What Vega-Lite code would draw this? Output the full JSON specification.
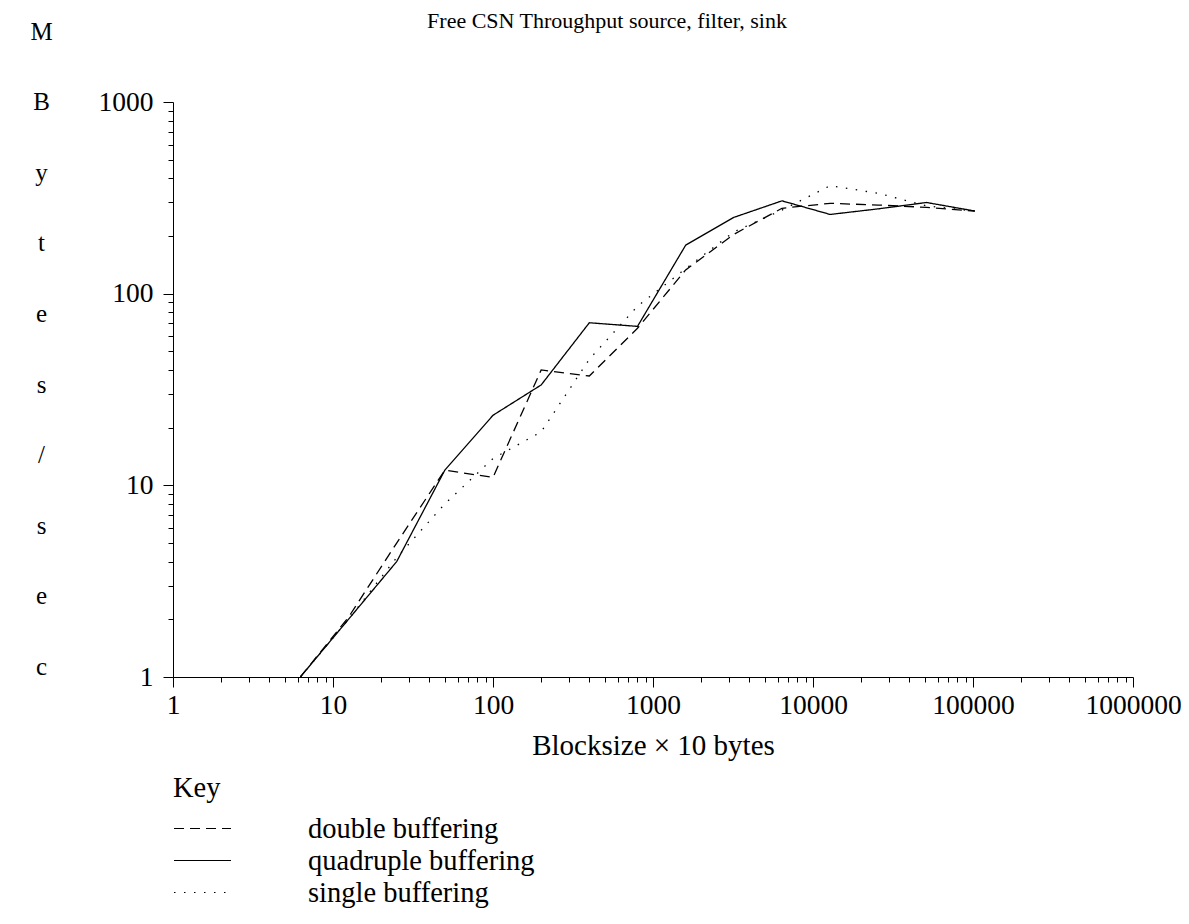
{
  "$schema": "https://vega.github.io/schema/vega-lite/v6.json",
  "autosize": "none",
  "padding": {"left": 173, "top": 102, "right": 56, "bottom": 247},
  "width": 960,
  "height": 575,
  "background": "white",
  "title": {
    "text": "Free CSN Throughput source, filter, sink",
    "font": "Liberation Serif",
    "fontSize": 22,
    "fontWeight": "normal",
    "color": "black",
    "anchor": "middle",
    "frame": "group",
    "dx": -46,
    "dy": 18
  },
  "config": {
    "view": {"stroke": null},
    "font": "Liberation Serif",
    "axis": {
      "domainColor": "black",
      "domainWidth": 1,
      "tickColor": "black",
      "tickWidth": 1,
      "labelColor": "black",
      "titleColor": "black",
      "labelFont": "Liberation Serif",
      "titleFont": "Liberation Serif",
      "labelFontSize": 27.5,
      "titleFontSize": 29,
      "titleFontWeight": "normal",
      "grid": false,
      "labelOverlap": false,
      "labelFlush": false,
      "labelBound": false
    },
    "legend": {
      "labelFont": "Liberation Serif",
      "titleFont": "Liberation Serif",
      "labelFontSize": 28.5,
      "titleFontSize": 28.5,
      "titleFontWeight": "normal",
      "labelColor": "black",
      "titleColor": "black"
    }
  },
  "data": {
    "values": [
      {"block": 6.25, "mbps": 1, "series": "double buffering"},
      {"block": 12.5, "mbps": 2.05, "series": "double buffering"},
      {"block": 25, "mbps": 5.0, "series": "double buffering"},
      {"block": 50, "mbps": 12.0, "series": "double buffering"},
      {"block": 100, "mbps": 11.0, "series": "double buffering"},
      {"block": 200, "mbps": 40, "series": "double buffering"},
      {"block": 400, "mbps": 37.2, "series": "double buffering"},
      {"block": 800, "mbps": 66, "series": "double buffering"},
      {"block": 1600, "mbps": 133, "series": "double buffering"},
      {"block": 3200, "mbps": 204, "series": "double buffering"},
      {"block": 6400, "mbps": 279, "series": "double buffering"},
      {"block": 12800, "mbps": 296, "series": "double buffering"},
      {"block": 25600, "mbps": 290, "series": "double buffering"},
      {"block": 51200, "mbps": 282, "series": "double buffering"},
      {"block": 102400, "mbps": 270, "series": "double buffering"},
      {"block": 6.25, "mbps": 1, "series": "quadruple buffering"},
      {"block": 12.5, "mbps": 2.0, "series": "quadruple buffering"},
      {"block": 25, "mbps": 4.0, "series": "quadruple buffering"},
      {"block": 50, "mbps": 12.0, "series": "quadruple buffering"},
      {"block": 100, "mbps": 23.2, "series": "quadruple buffering"},
      {"block": 200, "mbps": 33.4, "series": "quadruple buffering"},
      {"block": 400, "mbps": 70.5, "series": "quadruple buffering"},
      {"block": 800, "mbps": 67.5, "series": "quadruple buffering"},
      {"block": 1600, "mbps": 179, "series": "quadruple buffering"},
      {"block": 3200, "mbps": 250, "series": "quadruple buffering"},
      {"block": 6400, "mbps": 305, "series": "quadruple buffering"},
      {"block": 12800, "mbps": 259, "series": "quadruple buffering"},
      {"block": 25600, "mbps": 277, "series": "quadruple buffering"},
      {"block": 51200, "mbps": 299, "series": "quadruple buffering"},
      {"block": 102400, "mbps": 270, "series": "quadruple buffering"},
      {"block": 6.25, "mbps": 1, "series": "single buffering"},
      {"block": 12.5, "mbps": 2.0, "series": "single buffering"},
      {"block": 25, "mbps": 4.2, "series": "single buffering"},
      {"block": 50, "mbps": 8.0, "series": "single buffering"},
      {"block": 100, "mbps": 13.8, "series": "single buffering"},
      {"block": 200, "mbps": 19.0, "series": "single buffering"},
      {"block": 400, "mbps": 45.5, "series": "single buffering"},
      {"block": 800, "mbps": 86, "series": "single buffering"},
      {"block": 1600, "mbps": 135, "series": "single buffering"},
      {"block": 3200, "mbps": 210, "series": "single buffering"},
      {"block": 6400, "mbps": 273, "series": "single buffering"},
      {"block": 12800, "mbps": 366, "series": "single buffering"},
      {"block": 25600, "mbps": 334, "series": "single buffering"},
      {"block": 51200, "mbps": 287, "series": "single buffering"},
      {"block": 102400, "mbps": 270, "series": "single buffering"}
    ]
  },
  "mark": {"type": "line", "color": "black", "strokeWidth": 1.3},
  "encoding": {
    "x": {
      "field": "block",
      "type": "quantitative",
      "scale": {"type": "log", "domain": [1, 1000000], "nice": false},
      "axis": {
        "title": "Blocksize × 10 bytes",
        "titleBaseline": "alphabetic",
        "titleY": 77,
        "values": [1,2,3,4,5,6,7,8,9,10,20,30,40,50,60,70,80,90,100,200,300,400,500,600,700,800,900,1000,2000,3000,4000,5000,6000,7000,8000,9000,10000,20000,30000,40000,50000,60000,70000,80000,90000,100000,200000,300000,400000,500000,600000,700000,800000,900000,1000000],
        "labelExpr": "indexof([1,10,100,1000,10000,100000,1000000], datum.value) >= 0 ? format(datum.value, 'd') : ''",
        "tickSize": {"condition": {"test": "indexof([1,10,100,1000,10000,100000,1000000], datum.value) >= 0", "value": 10}, "value": 5},
        "labelPadding": 4
      }
    },
    "y": {
      "field": "mbps",
      "type": "quantitative",
      "scale": {"type": "log", "domain": [1, 1000], "nice": false},
      "axis": {
        "title": ["M", "B", "y", "t", "e", "s", "/", "s", "e", "c"],
        "titleAngle": 0,
        "titleAlign": "center",
        "titleBaseline": "alphabetic",
        "titleFontSize": 25,
        "titleLineHeight": 70.6,
        "titleX": -132,
        "titleY": -63,
        "values": [1,2,3,4,5,6,7,8,9,10,20,30,40,50,60,70,80,90,100,200,300,400,500,600,700,800,900,1000],
        "labelExpr": "indexof([1,10,100,1000], datum.value) >= 0 ? format(datum.value, 'd') : ''",
        "tickSize": {"condition": {"test": "indexof([1,10,100,1000], datum.value) >= 0", "value": 10}, "value": 5},
        "labelPadding": 10
      }
    },
    "strokeDash": {
      "field": "series",
      "type": "nominal",
      "scale": {
        "domain": ["double buffering", "quadruple buffering", "single buffering"],
        "range": [[10, 6], [1, 0], [1.5, 8.5]]
      },
      "legend": {
        "title": "Key",
        "orient": "none",
        "legendX": 0,
        "legendY": 672,
        "padding": 0,
        "symbolType": "stroke",
        "symbolSize": 3249,
        "symbolStrokeColor": "black",
        "symbolStrokeWidth": 1.2,
        "labelOffset": 76,
        "labelLimit": 500,
        "clipHeight": 30,
        "rowPadding": 2,
        "titlePadding": 11
      }
    }
  }
}
